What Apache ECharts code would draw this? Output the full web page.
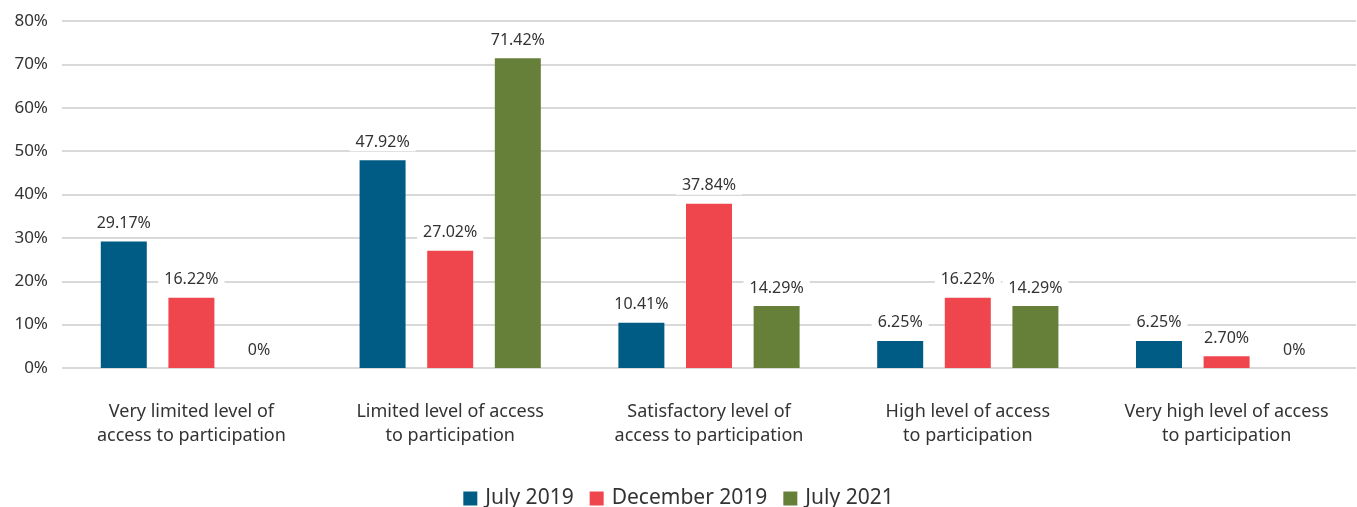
<!DOCTYPE html>
<html>
<head>
<meta charset="utf-8">
<script src="https://cdn.jsdelivr.net/npm/echarts@6/dist/echarts.min.js"></script>
<style>
  html, body { margin: 0; padding: 0; background: #fff; }
  #chart { width: 1357px; height: 507px; }
</style>
</head>
<body>
<div id="chart"></div>
<script>
const categories = [
  "Very limited level of\naccess to participation",
  "Limited level of access\nto participation",
  "Satisfactory level of\naccess to participation",
  "High level of access\nto participation",
  "Very high level of access\nto participation"
];
const seriesNames = ["July 2019", "December 2019", "July 2021"];
const july2019 = [29.17, 47.92, 10.41, 6.25, 6.25];
const december2019 = [16.22, 27.02, 37.84, 16.22, 2.70];
const july2021 = [0, 71.42, 14.29, 14.29, 0];
const colors = ["#005c84", "#ef464e", "#66803a"];
const font = "Noto Sans";

function fmt(p) {
  if (p.value === 0) return "0%";
  return p.value.toFixed(2) + "%";
}

function makeSeries(name, data, color) {
  return {
    name: name,
    type: "bar",
    data: data,
    barWidth: 46,
    barGap: "47%",
    itemStyle: { color: color },
    label: {
      show: true,
      position: "top",
      distance: 9,
      formatter: fmt,
      color: "#333",
      fontSize: 16,
      fontFamily: font,
      backgroundColor: "#fff",
      padding: [1, 6]
    }
  };
}

const chart = echarts.init(document.getElementById("chart"));
chart.setOption({
  animation: false,
  textStyle: { fontFamily: font },
  color: colors,
  grid: { left: 62, right: 1, top: 21, bottom: 139 },
  legend: {
    top: 483,
    left: "center",
    itemWidth: 14,
    itemHeight: 14,
    itemGap: 16,
    icon: "rect",
    textStyle: { fontSize: 21, color: "#333", fontFamily: font, padding: [0, 0, 0, 3] },
    data: seriesNames
  },
  xAxis: {
    type: "category",
    data: categories,
    axisLine: { show: false },
    axisTick: { show: false },
    axisLabel: {
      interval: 0,
      margin: 32,
      fontSize: 18,
      lineHeight: 24,
      color: "#333",
      fontFamily: font
    }
  },
  yAxis: {
    type: "value",
    min: 0,
    max: 80,
    interval: 10,
    axisLine: { show: false },
    axisTick: { show: false },
    splitLine: { lineStyle: { color: "#d9d9d9", width: 2 } },
    axisLabel: {
      formatter: "{value}%",
      fontSize: 17,
      color: "#333",
      margin: 14,
      fontFamily: font
    }
  },
  series: [
    makeSeries(seriesNames[0], july2019, colors[0]),
    makeSeries(seriesNames[1], december2019, colors[1]),
    makeSeries(seriesNames[2], july2021, colors[2])
  ]
});
</script>
</body>
</html>
